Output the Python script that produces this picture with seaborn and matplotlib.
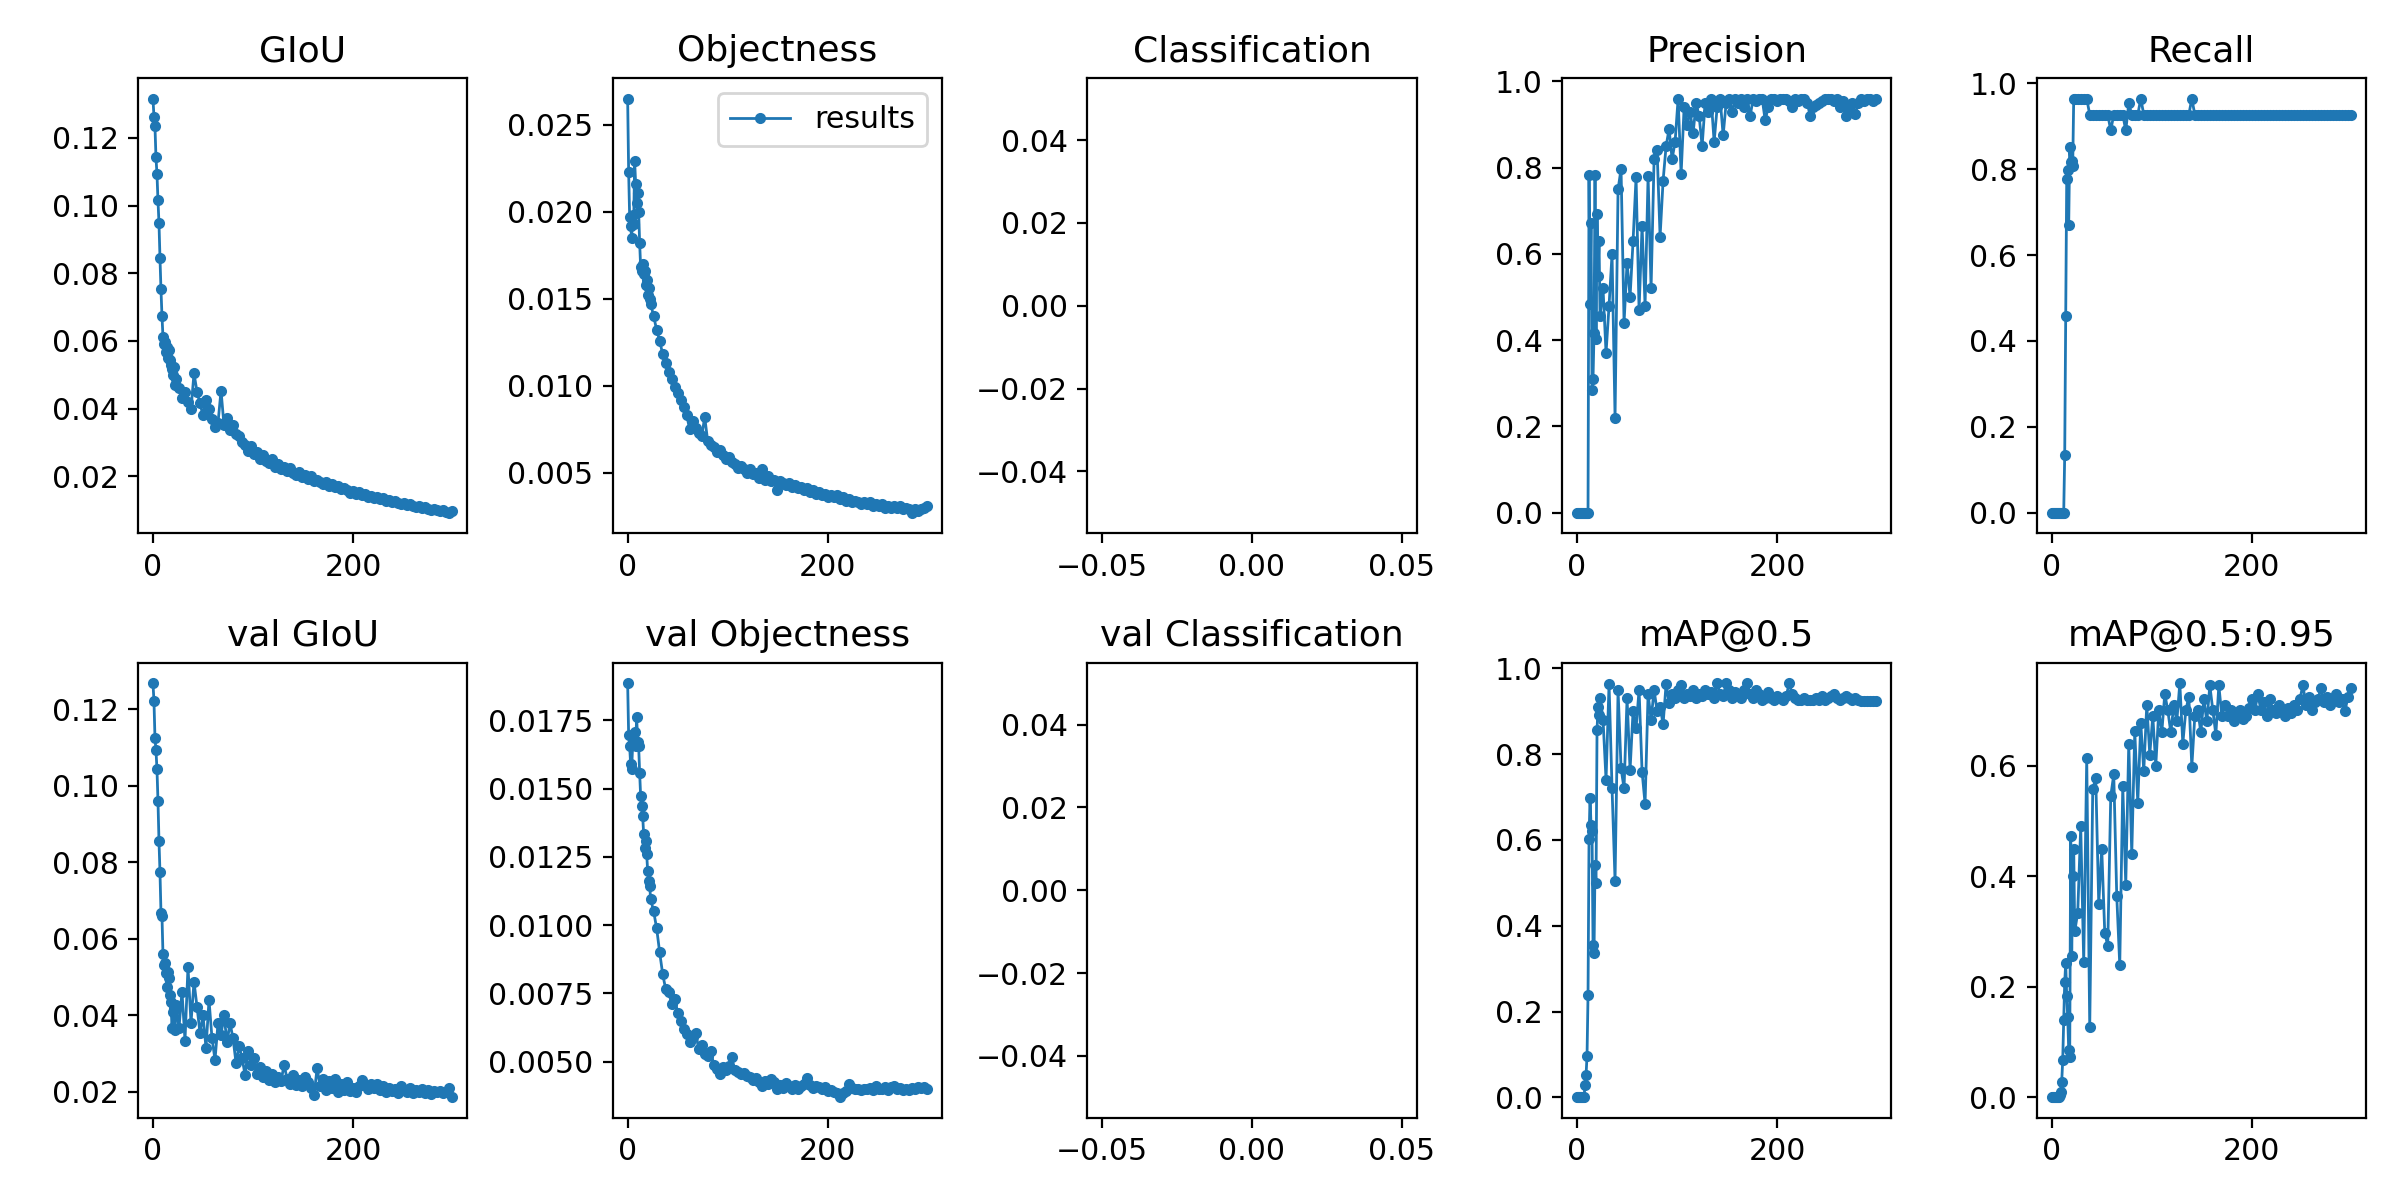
import matplotlib
matplotlib.use("Agg")
import matplotlib.pyplot as plt
import seaborn as sns

# epochs sampled: every epoch 0..23, then every 3rd epoch
EPOCHS = list(range(24)) + list(range(26, 300, 3))

TITLES = ['GIoU', 'Objectness', 'Classification', 'Precision', 'Recall',
          'val GIoU', 'val Objectness', 'val Classification', 'mAP@0.5', 'mAP@0.5:0.95']

giou = [0.1316, 0.1263, 0.1234, 0.1143, 0.1093, 0.1016, 0.0949, 0.0846, 0.0752, 0.0674,
        0.0612, 0.0590, 0.0598, 0.0566, 0.0582, 0.0550, 0.0572, 0.0545, 0.0528, 0.0518,
        0.0500, 0.0522, 0.0470, 0.0488,
        0.0462, 0.0432, 0.0448, 0.0418, 0.0398, 0.0504, 0.0450, 0.0415, 0.0380, 0.0425,
        0.0398, 0.0368, 0.0345, 0.0358, 0.0453, 0.0350, 0.0372, 0.0338, 0.0352, 0.0325,
        0.0318, 0.0300, 0.0292, 0.0275, 0.0288, 0.0265, 0.0272, 0.0252, 0.0262, 0.0245,
        0.0240, 0.0252, 0.0228, 0.0236, 0.0220, 0.0228, 0.0215, 0.0224, 0.0210, 0.0205,
        0.0212, 0.0198, 0.0205, 0.0192, 0.0200, 0.0186, 0.0190, 0.0182, 0.0178, 0.0184,
        0.0172, 0.0176, 0.0168, 0.0172, 0.0162, 0.0166, 0.0158, 0.0150, 0.0155, 0.0148,
        0.0152, 0.0144, 0.0148, 0.0140, 0.0143, 0.0136, 0.0140, 0.0132, 0.0135, 0.0128,
        0.0130, 0.0125, 0.0127, 0.0122, 0.0118, 0.0121, 0.0115, 0.0117, 0.0112, 0.0110,
        0.0111, 0.0106, 0.0108, 0.0104, 0.0101, 0.0103, 0.0099, 0.0097, 0.0100, 0.0095,
        0.0092, 0.0098]

objectness = [0.0265, 0.0223, 0.0197, 0.0192, 0.0185, 0.0198, 0.0193, 0.0229, 0.0216, 0.0205,
              0.0211, 0.0200, 0.0182, 0.0168, 0.0166, 0.0170, 0.0164, 0.0166, 0.0158, 0.0161,
              0.0152, 0.0156, 0.0150, 0.0147,
              0.0140, 0.0132, 0.0126, 0.0118, 0.0113, 0.0108, 0.0104, 0.0099, 0.0096, 0.0092,
              0.0088, 0.0083, 0.0075, 0.0080, 0.0076, 0.0073, 0.0071, 0.0082, 0.0068, 0.0066,
              0.0065, 0.0062, 0.0063, 0.0060, 0.0058, 0.0059, 0.0056, 0.0055, 0.0053, 0.0054,
              0.0052, 0.0050, 0.0052, 0.0049, 0.0050, 0.0047, 0.0052, 0.0046, 0.0048, 0.0045,
              0.0046, 0.0040, 0.0045, 0.0044, 0.0043, 0.0044, 0.0042, 0.0043, 0.0041, 0.0042,
              0.0040, 0.0041, 0.0039, 0.0040, 0.0038, 0.0039, 0.0037, 0.0038, 0.0036, 0.0037,
              0.0036, 0.0037, 0.0035, 0.0036, 0.0034, 0.0035, 0.0033, 0.0034, 0.0033, 0.0032,
              0.0033, 0.0032, 0.0033, 0.0031, 0.0032, 0.0031, 0.0032, 0.0030, 0.0031, 0.0030,
              0.0031, 0.0030, 0.0031, 0.0029, 0.0030, 0.0029, 0.0027, 0.0029, 0.0028, 0.0029,
              0.0030, 0.0031]

precision = [0.0, 0.0, 0.0, 0.0, 0.0, 0.0, 0.0, 0.0, 0.0, 0.0,
             0.0, 0.0, 0.783, 0.485, 0.671, 0.284, 0.310, 0.417, 0.783, 0.403,
             0.692, 0.550, 0.630, 0.456,
             0.520, 0.370, 0.480, 0.600, 0.220, 0.750, 0.797, 0.440, 0.580, 0.500,
             0.630, 0.778, 0.470, 0.665, 0.480, 0.780, 0.520, 0.820, 0.840, 0.640,
             0.770, 0.850, 0.890, 0.820, 0.860, 0.960, 0.785, 0.940, 0.900, 0.930,
             0.880, 0.950, 0.920, 0.850, 0.950, 0.930, 0.960, 0.860, 0.940, 0.960,
             0.875, 0.950, 0.960, 0.930, 0.960, 0.950, 0.960, 0.940, 0.960, 0.920,
             0.960, 0.955, 0.960, 0.960, 0.910, 0.940, 0.960, 0.960, 0.955, 0.960,
             0.960, 0.960, 0.955, 0.940, 0.960, 0.955, 0.960, 0.960, 0.950, 0.920,
             0.940, 0.945, 0.950, 0.955, 0.960, 0.960, 0.960, 0.955, 0.960, 0.940,
             0.955, 0.920, 0.940, 0.950, 0.925, 0.950, 0.960, 0.955, 0.960, 0.960,
             0.955, 0.960]

recall = [0.0, 0.0, 0.0, 0.0, 0.0, 0.0, 0.0, 0.0, 0.0, 0.0,
          0.0, 0.0, 0.0, 0.134, 0.457, 0.777, 0.797, 0.671, 0.851, 0.816,
          0.820, 0.808, 0.964, 0.964,
          0.964, 0.964, 0.964, 0.964, 0.927, 0.927, 0.927, 0.927, 0.927, 0.927,
          0.927, 0.890, 0.927, 0.927, 0.927, 0.927, 0.890, 0.953, 0.927, 0.927,
          0.927, 0.964, 0.927, 0.927, 0.927, 0.927, 0.927, 0.927, 0.927, 0.927,
          0.927, 0.927, 0.927, 0.927, 0.927, 0.927, 0.927, 0.927, 0.964, 0.927,
          0.927, 0.927, 0.927, 0.927, 0.927, 0.927, 0.927, 0.927, 0.927, 0.927,
          0.927, 0.927, 0.927, 0.927, 0.927, 0.927, 0.927, 0.927, 0.927, 0.927,
          0.927, 0.927, 0.927, 0.927, 0.927, 0.927, 0.927, 0.927, 0.927, 0.927,
          0.927, 0.927, 0.927, 0.927, 0.927, 0.927, 0.927, 0.927, 0.927, 0.927,
          0.927, 0.927, 0.927, 0.927, 0.927, 0.927, 0.927, 0.927, 0.927, 0.927,
          0.927, 0.927]

val_giou = [0.1268, 0.1222, 0.1125, 0.1093, 0.1044, 0.0961, 0.0857, 0.0775, 0.0669, 0.0660,
            0.0560, 0.0532, 0.0536, 0.0510, 0.0475, 0.0514, 0.0497, 0.0453, 0.0436, 0.0367,
            0.0410, 0.0419, 0.0362, 0.0427,
            0.0367, 0.0462, 0.0334, 0.0527, 0.0380, 0.0488, 0.0423, 0.0354, 0.0400, 0.0315,
            0.0440, 0.0340, 0.0284, 0.0380, 0.0350, 0.0400, 0.0330, 0.0380, 0.0340, 0.0276,
            0.0320, 0.0289, 0.0245, 0.0306, 0.0270, 0.0289, 0.0248, 0.0265, 0.0240, 0.0255,
            0.0230, 0.0248, 0.0225, 0.0240, 0.0228, 0.0271, 0.0235, 0.0222, 0.0245, 0.0218,
            0.0230, 0.0215, 0.0240, 0.0225, 0.0210, 0.0193, 0.0262, 0.0215, 0.0235, 0.0205,
            0.0228, 0.0210, 0.0235, 0.0200, 0.0220, 0.0205, 0.0225, 0.0202, 0.0210, 0.0200,
            0.0215, 0.0232, 0.0218, 0.0208, 0.0222, 0.0210, 0.0220, 0.0205, 0.0215, 0.0200,
            0.0210, 0.0202, 0.0208, 0.0198, 0.0215, 0.0205, 0.0200, 0.0210, 0.0198, 0.0204,
            0.0200, 0.0208, 0.0198, 0.0205, 0.0196, 0.0202, 0.0199, 0.0203, 0.0197, 0.0201,
            0.0210, 0.0186]

val_objectness = [0.01885, 0.01695, 0.01654, 0.01589, 0.01571, 0.01659, 0.01680, 0.01705, 0.01654, 0.01763,
                  0.01670, 0.01654, 0.01556, 0.01471, 0.01437, 0.01400, 0.01333, 0.01284, 0.01309, 0.01260,
                  0.01199, 0.01162, 0.01144, 0.01095,
                  0.01050, 0.00988, 0.00900, 0.00821, 0.00766, 0.00754, 0.00711, 0.00730, 0.00680, 0.00650,
                  0.00620, 0.00600, 0.00571, 0.00590, 0.00607, 0.00546, 0.00560, 0.00530, 0.00522, 0.00540,
                  0.00490, 0.00473, 0.00455, 0.00480, 0.00470, 0.00485, 0.00516, 0.00470, 0.00461, 0.00455,
                  0.00460, 0.00449, 0.00445, 0.00435, 0.00440, 0.00425, 0.00412, 0.00430, 0.00420, 0.00437,
                  0.00425, 0.00400, 0.00415, 0.00405, 0.00424, 0.00410, 0.00400, 0.00415, 0.00402, 0.00410,
                  0.00420, 0.00439, 0.00415, 0.00405, 0.00410, 0.00406, 0.00400, 0.00408, 0.00394, 0.00398,
                  0.00390, 0.00385, 0.00370, 0.00385, 0.00395, 0.00418, 0.00405, 0.00400, 0.00402, 0.00398,
                  0.00402, 0.00400, 0.00405, 0.00398, 0.00412, 0.00402, 0.00400, 0.00406, 0.00398, 0.00408,
                  0.00412, 0.00400, 0.00404, 0.00398, 0.00402, 0.00397, 0.00405, 0.00400, 0.00408, 0.00404,
                  0.00406, 0.00400]

map50 = [0.0, 0.0, 0.0, 0.0, 0.0, 0.0, 0.0, 0.0, 0.028, 0.051,
         0.096, 0.238, 0.603, 0.698, 0.635, 0.620, 0.356, 0.337, 0.541, 0.500,
         0.856, 0.910, 0.890, 0.930,
         0.880, 0.740, 0.963, 0.720, 0.504, 0.950, 0.767, 0.720, 0.930, 0.763,
         0.900, 0.860, 0.950, 0.759, 0.684, 0.940, 0.880, 0.950, 0.900, 0.910,
         0.870, 0.963, 0.920, 0.940, 0.930, 0.950, 0.960, 0.930, 0.940, 0.935,
         0.950, 0.930, 0.940, 0.935, 0.950, 0.940, 0.945, 0.930, 0.965, 0.940,
         0.935, 0.965, 0.950, 0.930, 0.945, 0.940, 0.930, 0.950, 0.965, 0.940,
         0.930, 0.950, 0.940, 0.925, 0.930, 0.945, 0.930, 0.925, 0.935, 0.930,
         0.925, 0.935, 0.965, 0.940, 0.930, 0.925, 0.925, 0.930, 0.925, 0.925,
         0.925, 0.930, 0.925, 0.935, 0.925, 0.930, 0.935, 0.940, 0.930, 0.925,
         0.930, 0.935, 0.930, 0.925, 0.930, 0.925, 0.924, 0.924, 0.924, 0.924,
         0.924, 0.924]

map5095 = [0.0, 0.0, 0.0, 0.0, 0.0, 0.0, 0.0, 0.0, 0.005, 0.010,
           0.028, 0.067, 0.139, 0.208, 0.243, 0.184, 0.145, 0.085, 0.073, 0.472,
           0.256, 0.400, 0.450, 0.300,
           0.334, 0.490, 0.244, 0.614, 0.127, 0.557, 0.578, 0.350, 0.450, 0.298,
           0.274, 0.545, 0.584, 0.364, 0.239, 0.563, 0.385, 0.640, 0.440, 0.662,
           0.533, 0.677, 0.590, 0.710, 0.620, 0.690, 0.600, 0.700, 0.660, 0.730,
           0.700, 0.660, 0.710, 0.680, 0.749, 0.640, 0.700, 0.725, 0.598, 0.690,
           0.700, 0.660, 0.720, 0.680, 0.745, 0.700, 0.656, 0.745, 0.690, 0.710,
           0.690, 0.700, 0.680, 0.695, 0.700, 0.685, 0.690, 0.705, 0.720, 0.700,
           0.730, 0.700, 0.715, 0.690, 0.720, 0.700, 0.695, 0.710, 0.700, 0.690,
           0.705, 0.695, 0.710, 0.700, 0.720, 0.746, 0.710, 0.725, 0.700, 0.715,
           0.720, 0.740, 0.715, 0.725, 0.710, 0.720, 0.730, 0.715, 0.720, 0.698,
           0.725, 0.740]

SERIES = [giou, objectness, None, precision, recall,
          val_giou, val_objectness, None, map50, map5095]

COLOR = '#1f77b4'
plt.rcParams['font.size'] = 10.8

fig, axes = plt.subplots(2, 5, figsize=(12, 6), dpi=200)
fig.subplots_adjust(left=0.0575, right=0.9858, top=0.935, bottom=0.0683,
                    wspace=0.442, hspace=0.2835)
axes = axes.ravel()
for i, (ax, title, vals) in enumerate(zip(axes, TITLES, SERIES)):
    if vals is not None:
        assert len(vals) == len(EPOCHS), (title, len(vals))
        kw = dict(label='results') if i == 1 else {}
        sns.lineplot(x=EPOCHS, y=vals, ax=ax, color=COLOR, marker='.',
                     markersize=6, linewidth=1, markeredgecolor=COLOR,
                     markeredgewidth=1.0, estimator=None, sort=False,
                     legend=False, **kw)
        ax.set_xticks([0, 200])
    else:
        ax.set_xlim(-0.055, 0.055)
        ax.set_ylim(-0.055, 0.055)
    ax.set_title(title, fontsize=13)
    ax.set_xlabel('')
    ax.set_ylabel('')

axes[1].legend(loc='upper right')
fig.savefig('out.png', dpi=200)
